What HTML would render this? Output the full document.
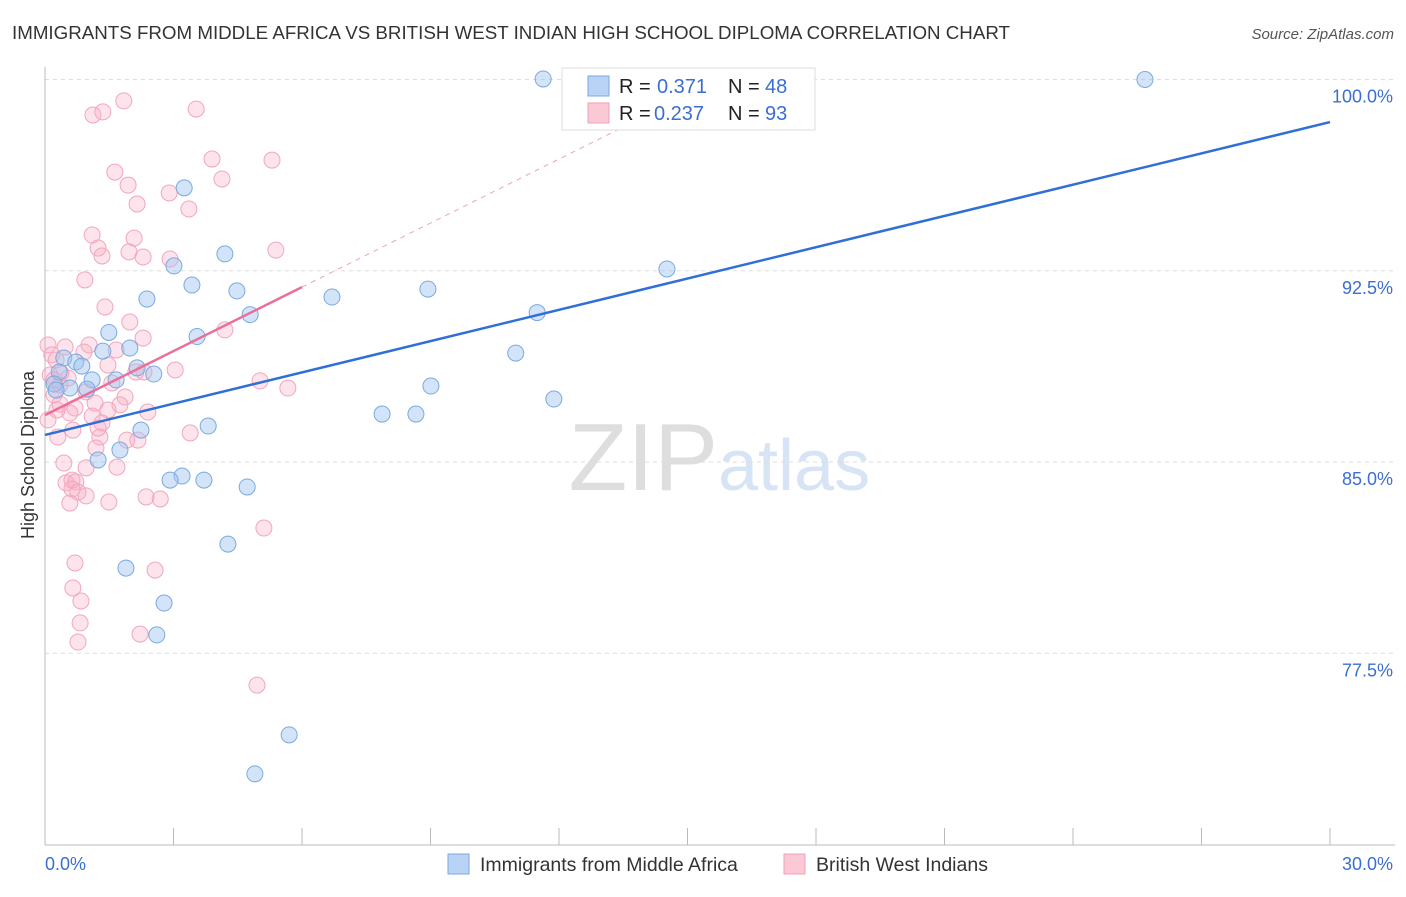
<!DOCTYPE html>
<html><head><meta charset="utf-8"><style>
body{margin:0;background:#fff;font-family:"Liberation Sans",sans-serif;}
svg text{font-family:"Liberation Sans",sans-serif;}
</style></head><body>
<svg id="chart" width="1406" height="892" viewBox="0 0 1406 892" xmlns="http://www.w3.org/2000/svg">
<text x="12" y="39" font-size="18" fill="#333" textLength="998" lengthAdjust="spacingAndGlyphs">IMMIGRANTS FROM MIDDLE AFRICA VS BRITISH WEST INDIAN HIGH SCHOOL DIPLOMA CORRELATION CHART</text>
<text x="1394" y="39" font-size="15" fill="#555" font-style="italic" text-anchor="end">Source: ZipAtlas.com</text>
<text x="718" y="490" font-size="96" fill="#dedede" text-anchor="end" font-family="Liberation Serif">ZIP</text>
<text x="718" y="490" font-size="72" fill="#d6e4f5">atlas</text>
<g id="grid"></g>
<g id="axes"></g>
<g id="marks"></g>
<text transform="translate(34,455) rotate(-90)" font-size="18" fill="#333" text-anchor="middle">High School Diploma</text>
<g>
<rect x="562" y="68" width="253" height="62" fill="#fff" stroke="#ddd"/>
<rect x="588" y="76" width="21" height="20" fill="#b8d3f5" stroke="#7aa9e0"/>
<rect x="588" y="103" width="21" height="20" fill="#fbc8d6" stroke="#f0a0b8"/>
<text x="619" y="93" font-size="20" fill="#222">R =</text>
<text x="657" y="93" font-size="20" fill="#3a6fd0">0.371</text>
<text x="728" y="93" font-size="20" fill="#222">N =</text>
<text x="765" y="93" font-size="20" fill="#3a6fd0">48</text>
<text x="619" y="120" font-size="20" fill="#222">R =</text>
<text x="654" y="120" font-size="20" fill="#3a6fd0">0.237</text>
<text x="728" y="120" font-size="20" fill="#222">N =</text>
<text x="765" y="120" font-size="20" fill="#3a6fd0">93</text>
</g>
<g>
<rect x="448" y="854" width="21" height="20" fill="#b8d3f5" stroke="#7aa9e0"/>
<text x="480" y="871" font-size="19.5" fill="#333">Immigrants from Middle Africa</text>
<rect x="784" y="854" width="21" height="20" fill="#fbc8d6" stroke="#f0a0b8"/>
<text x="816" y="871" font-size="19.5" fill="#333">British West Indians</text>
</g>
</svg>
<script>
const yTicks=[100,92.5,85,77.5];
const yTickLabels=["100.0%","92.5%","85.0%","77.5%"];
const xTickLabels=["0.0%","30.0%"];
const blueX=[11.63,25.68,3.25,4.20,3.01,14.52,3.43,4.48,2.38,6.70,8.94,4.79,11.49,1.49,3.55,1.35,1.98,10.99,0.44,0.72,0.86,0.33,2.15,2.54,1.10,1.66,0.21,0.58,0.26,9.01,11.88,7.87,8.66,3.81,2.24,1.24,1.75,3.20,2.92,3.71,4.72,4.27,1.89,2.78,2.61,5.70,4.90,0.98];
const blueY=[100.02,100.0,95.75,93.16,92.69,92.57,91.94,91.71,91.39,91.47,91.78,90.78,90.86,90.08,89.92,89.35,89.47,89.27,89.08,88.92,88.76,88.53,88.69,88.45,88.22,88.22,88.06,87.90,87.82,87.98,87.47,86.88,86.88,86.41,86.25,85.08,85.47,84.45,84.29,84.29,84.02,81.78,80.84,79.47,78.22,74.30,72.77,87.86];
const pinkX=[1.84,1.12,1.35,3.53,1.63,3.90,5.30,4.13,1.94,2.90,2.15,3.36,1.10,1.24,2.08,1.96,1.33,2.29,2.92,5.39,0.93,1.40,1.98,4.20,2.29,0.07,0.47,1.03,1.66,0.91,0.16,0.26,3.04,1.47,2.12,0.12,0.54,0.35,5.02,5.67,1.56,0.96,1.87,0.21,0.35,1.75,1.17,0.28,0.70,0.58,1.10,2.40,1.47,1.33,0.65,0.30,1.28,1.91,2.17,3.39,1.19,0.44,0.49,0.96,1.68,0.63,0.72,0.63,0.77,0.58,0.96,1.49,2.36,2.69,5.11,0.70,0.65,0.84,2.57,0.82,0.77,2.22,4.95,0.07,0.37,0.21,1.24,2.31];
const pinkY=[99.16,98.61,98.73,98.84,96.37,96.88,96.84,96.10,95.86,95.55,95.12,94.92,93.90,93.39,93.78,93.24,93.08,93.04,92.96,93.31,92.14,91.08,90.49,90.18,89.86,89.59,89.51,89.59,89.39,89.31,89.20,89.00,88.61,88.80,88.53,88.41,88.29,88.02,88.18,87.90,88.10,87.75,87.55,87.63,87.27,87.24,87.31,87.04,87.12,86.92,86.80,86.96,87.04,86.53,86.25,85.98,85.98,85.86,85.86,86.14,85.55,84.96,84.18,84.77,84.80,84.29,84.22,83.94,83.82,83.39,83.67,83.43,83.63,83.55,82.41,81.04,80.06,79.55,80.76,78.69,77.94,78.25,76.25,86.65,88.49,88.22,86.33,88.53];
const blueTrend=[86.06,98.33];
const pinkTrend=[86.84,91.86];
const pinkTrendEnd=6;
const NS="http://www.w3.org/2000/svg";
const sx=v=>45+v*42.833;
const sy=v=>79.5+(100-v)*25.5;
function mk(tag,attrs,parent){const e=document.createElementNS(NS,tag);for(const k in attrs)e.setAttribute(k,attrs[k]);parent.appendChild(e);return e;}
const grid=document.getElementById('grid'),axes=document.getElementById('axes'),marks=document.getElementById('marks');
yTicks.forEach((t,i)=>{
  const l=mk('line',{x1:45,x2:1395,y1:sy(t),y2:sy(t),stroke:'#ddd','stroke-dasharray':'4,4'},grid);
  
  
  const tx=mk('text',{x:1393,y:sy(t)+23,'font-size':18,fill:'#3a6fd0','text-anchor':'end'},axes);
  tx.textContent=yTickLabels[i];
  
  
});
const ax=mk('line',{x1:45,x2:45,y1:67,y2:845,stroke:'#bbb'},axes);


const bx=mk('line',{x1:45,x2:1395,y1:845,y2:845,stroke:'#bbb'},axes);


for(let i=0;i<=10;i++){
  const tk=mk('line',{x1:sx(i*3),x2:sx(i*3),y1:828,y2:845,stroke:'#bbb'},axes);
  
  
}
const xl0=mk('text',{x:45,y:870,'font-size':18,fill:'#3a6fd0'},axes);
xl0.textContent=xTickLabels[0];


const xl1=mk('text',{x:1393,y:870,'font-size':18,fill:'#3a6fd0','text-anchor':'end'},axes);
xl1.textContent=xTickLabels[1];


pinkX.forEach((x,i)=>{
  const c=mk('circle',{cx:sx(x),cy:sy(pinkY[i]),r:8,fill:'rgba(248,175,198,0.35)',stroke:'#f2a6bd','stroke-width':1},marks);
  
  
});
blueX.forEach((x,i)=>{
  const c=mk('circle',{cx:sx(x),cy:sy(blueY[i]),r:8,fill:'rgba(160,196,240,0.45)',stroke:'#7aa9e0','stroke-width':1},marks);
  
  
});
const slope=(pinkTrend[1]-pinkTrend[0])/pinkTrendEnd;
const xe=(100-pinkTrend[0])/slope*0.95;
const pd=mk('line',{x1:sx(pinkTrendEnd),y1:sy(pinkTrend[1]),x2:sx(xe),y2:sy(pinkTrend[0]+slope*xe),stroke:'#f0a0b8','stroke-dasharray':'5,5','stroke-width':1},marks);


const pl=mk('line',{x1:sx(0),y1:sy(pinkTrend[0]),x2:sx(pinkTrendEnd),y2:sy(pinkTrend[1]),stroke:'#e8709a','stroke-width':2.5},marks);


const bl=mk('line',{x1:sx(0),y1:sy(blueTrend[0]),x2:sx(30),y2:sy(blueTrend[1]),stroke:'#2f6fd6','stroke-width':2.5},marks);


</script>
</body></html>
